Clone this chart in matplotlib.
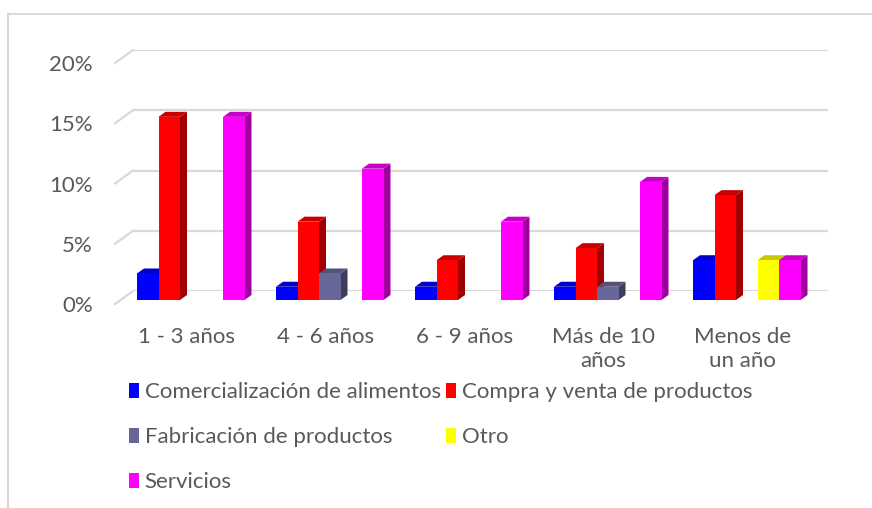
import numpy as np
import matplotlib.pyplot as plt
from matplotlib.patches import Polygon, Patch
from matplotlib.lines import Line2D
from matplotlib.transforms import ScaledTranslation

plt.rcParams['font.family'] = ['Lato', 'DejaVu Sans']

categories = ['1 - 3 años', '4 - 6 años', '6 - 9 años', 'Más de 10\naños', 'Menos de\nun año']
series = ['Comercialización de alimentos', 'Compra y venta de productos',
          'Fabricación de productos', 'Otro', 'Servicios']
# percent values per series, one per category
comercializacion = [2.2, 1.1, 1.1, 1.1, 3.3]
compra_venta = [15.2, 6.5, 3.3, 4.3, 8.7]
fabricacion = [0, 2.2, 0, 1.1, 0]
otro = [0, 0, 0, 0, 3.3]
servicios = [15.2, 10.9, 6.5, 9.8, 3.3]
values = [comercializacion, compra_venta, fabricacion, otro, servicios]

front = ['#0000FF', '#FF0000', '#666699', '#FFFF00', '#FF00FF']
side = ['#00009A', '#A00000', '#3D3D5C', '#9A9A00', '#A000A0']
top = ['#0000C8', '#C80000', '#52527A', '#C8C800', '#C800C8']
text_col = '#595959'
grid_col = '#D9D9D9'
fs = 16

W, H = 872, 508
fig = plt.figure(figsize=(W / 100, H / 100), dpi=100)
x0, x1, yb, yt = 133, 828, 291, 50
ax = fig.add_axes([x0 / W, (H - yb) / H, (x1 - x0) / W, (yb - yt) / H])
ax.set_xlim(-0.5, 4.5)
ax.set_ylim(0, 20)

# pixel -> data unit helpers
px_x = 5.0 / (x1 - x0)
px_y = 20.0 / (yb - yt)

for s in ax.spines.values():
    s.set_visible(False)
ax.set_yticks([0, 5, 10, 15, 20])
ax.set_yticklabels([f'{v}%' for v in [0, 5, 10, 15, 20]])
ax.yaxis.grid(True, color=grid_col, lw=1.6)
ax.set_axisbelow(True)
ax.tick_params(length=0, labelsize=fs, labelcolor=text_col)
ax.tick_params(axis='y', pad=29)
for lab in ax.get_yticklabels():
    lab.set_transform(lab.get_transform() + ScaledTranslation(0, -0.13, fig.dpi_scale_trans))

ax.set_xticks(range(len(categories)))
ax.set_xticklabels(categories, linespacing=1.25)
ax.tick_params(axis='x', pad=26)
for lab in ax.get_xticklabels():
    lab.set_transform(lab.get_transform() + ScaledTranslation(-0.16, 0, fig.dpi_scale_trans))

# slanted floor/wall edges on the left
for g in [0, 5, 10, 15, 20]:
    ax.add_line(Line2D([-0.5, -0.5 - 18 * px_x], [g, g - 13 * px_y],
                       color=grid_col, lw=1.6, clip_on=False))

# 3D-looking columns
slot = 21.5 * px_x
fx = -0.5 + 4 * px_x        # first front face left edge inside a category
fy = -9 * px_y              # front face baseline
ddx, ddy = 7 * px_x, 5 * px_y
for i in range(len(categories)):
    for k in range(len(series)):
        v = values[k][i]
        if v <= 0:
            continue
        l = i + fx + k * slot
        r = l + slot
        b = fy
        t = fy + v
        ax.add_patch(Polygon([(r, b), (r + ddx, b + ddy), (r + ddx, t + ddy), (r, t)],
                             closed=True, fc=side[k], ec='none', clip_on=False, zorder=2))
        ax.add_patch(Polygon([(l, t), (l + ddx, t + ddy), (r + ddx, t + ddy), (r, t)],
                             closed=True, fc=top[k], ec='none', clip_on=False, zorder=2))
        ax.add_patch(Polygon([(l, b), (r, b), (r, t), (l, t)],
                             closed=True, fc=front[k], ec='none', clip_on=False, zorder=2))

# legend: row-wise order like the original
order = [0, 2, 4, 1, 3]
handles = [Patch(fc=front[k], ec='none') for k in order]
labels = [series[k] for k in order]
fig.legend(handles, labels, ncol=2, loc='upper left',
           bbox_to_anchor=(118 / W, 1 - 371 / H), frameon=False,
           fontsize=fs, labelcolor=text_col, handlelength=0.45, handleheight=0.65,
           handletextpad=0.25, columnspacing=0.25, labelspacing=1.12, borderpad=0)

# chart outer border
fig.add_artist(Line2D([8 / W, 1], [1 - 14 / H, 1 - 14 / H], color=grid_col, lw=1.5))
fig.add_artist(Line2D([8 / W, 8 / W], [0, 1 - 14 / H], color=grid_col, lw=1.5))

fig.savefig('out.png', dpi=100)
